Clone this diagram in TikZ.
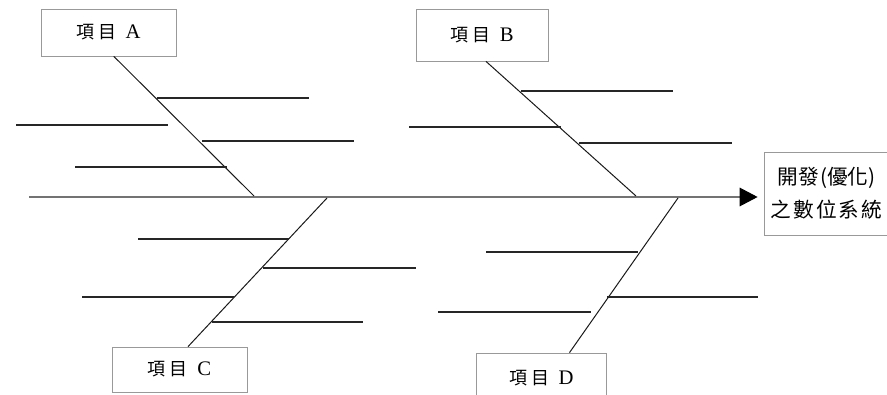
\documentclass[tikz,border=0pt]{standalone}
\usepackage{fontspec}
\setmainfont{Liberation Serif}
\newfontfamily\cjk{Noto Sans CJK TC}
\usetikzlibrary{arrows.meta}

\tikzset{
  itembox/.style={draw=black!40, line width=0.6pt, inner sep=0pt, fill=white},
  spine/.style={line width=0.8pt, black!55},
  bone/.style={line width=0.75pt, black!90},
  rib/.style={line width=1.2pt, black!85},
}
\newcommand{\cgap}{\hspace{1.5pt}}
\newcommand{\itemlabel}[1]{{\cjk\fontsize{13.5}{15}\selectfont 項\hspace{3pt}目}\hspace{7pt}{\fontsize{15.5}{17}\selectfont #1}}

\begin{document}
\begin{tikzpicture}[x=0.75pt, y=-0.75pt]
  \useasboundingbox (0,0) rectangle (887,395);

  % Boxes
  \node[itembox, minimum width=101.25pt, minimum height=35.25pt] (itemA) at (108.5,32.5) {\itemlabel{A}};
  \node[itembox, minimum width=99pt, minimum height=39pt] (itemB) at (482,35) {\itemlabel{B}};
  \node[itembox, minimum width=101.25pt, minimum height=33.75pt] (itemC) at (179.5,369.5) {\itemlabel{C}};
  \node[itembox, minimum width=97.5pt, minimum height=37.5pt] (itemD) at (541.5,378) {\itemlabel{D}};
  \node[itembox, minimum width=93.75pt, minimum height=62.25pt, align=center,
        font=\cjk\fontsize{15.5}{24.75}\selectfont] (result) at (826.5,193.5)
        {開發\hspace{1pt}(優化)\\之\cgap 數\cgap 位\cgap 系\cgap 統};

  % Spine
  \coordinate (tail) at (29,197);
  \draw[spine, -{Triangle[length=13.5pt,width=14pt,color=black]}] (tail) -- ([xshift=-4.5pt]tail -| result.west);

  % Bones
  \coordinate (jA) at (254,196);
  \coordinate (jB) at (636,196);
  \coordinate (jC) at (327,198);
  \coordinate (jD) at (678,198);
  \draw[bone] ([xshift=4pt]itemA.south) -- (jA);
  \draw[bone] ([xshift=3pt]itemB.south) -- (jB);
  \draw[bone] ([xshift=6.4pt]itemC.north) -- (jC);
  \draw[bone] ([xshift=21pt]itemD.north) -- (jD);

  % Ribs
  \foreach \y/\xa/\xb in {98/157/309, 125/16/168, 141/202/354, 167/75/227,
                          91/521/673, 127/409/561, 143/579/732,
                          239/138/289, 268/263/416, 297/82/234, 322/212/363,
                          252/486/638, 297/607/758, 312/438/591}
    \draw[rib] (\xa,\y) -- (\xb,\y);

\end{tikzpicture}
\end{document}
